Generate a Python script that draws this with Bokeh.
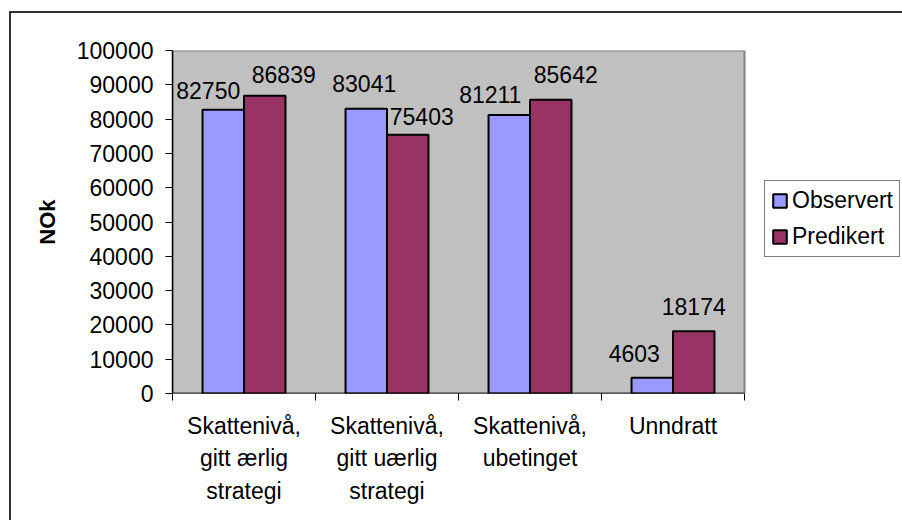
from bokeh.plotting import figure
from bokeh.models import (Range1d, FixedTicker, ColumnDataSource, Legend, LegendItem,
                          NumeralTickFormatter)
from bokeh.core.properties import value
from bokeh.embed import file_html
from bokeh.resources import INLINE

# ---- data ----
categories = ["Skattenivå,\ngitt ærlig\nstrategi",
              "Skattenivå,\ngitt uærlig\nstrategi",
              "Skattenivå,\nubetinget",
              "Unndratt"]
observert = [82750, 83041, 81211, 4603]
predikert = [86839, 75403, 85642, 18174]
series_names = ["Observert", "Predikert"]
y_ticks = [0, 10000, 20000, 30000, 40000, 50000, 60000, 70000, 80000, 90000, 100000]
y_label = "NOk"

# data-label pixel nudges (as placed in the original chart)
obs_label_dx = [-15, -2, -19, -18]
obs_label_dy = [19, 25, 20, 24]
pred_label_dx = [19, 14, 15, 0]
pred_label_dy = [21, 18, 25, 25]

FONT = "Liberation Sans"
BLUE = "#9999FF"
RED = "#993366"
BAR_W = 0.29

n = len(categories)
centers = [i + 0.5 for i in range(n)]

# layout (pixels): plot area 172..744 wide; the frame extends to the right edge
W, H = 902, 520
PLOT_L, PLOT_R, PLOT_T, PLOT_B = 172, 744, 50, 393
x_end = n * (W - PLOT_L) / (PLOT_R - PLOT_L)

p = figure(width=W, height=H, output_backend="svg", toolbar_location=None,
           x_range=Range1d(0, x_end), y_range=Range1d(y_ticks[0], y_ticks[-1]),
           min_border_left=PLOT_L, min_border_right=0, min_border_top=PLOT_T,
           min_border_bottom=H - PLOT_B)
p.background_fill_alpha = 0
p.border_fill_alpha = 0
p.outline_line_color = None
p.grid.visible = False
# outer chart-area frame (cropped at right/bottom), drawn behind the canvas
p.styles = {
    "background": ("linear-gradient(#333333, #333333) 9px 11px / 2px 100% no-repeat, "
                   "linear-gradient(#333333, #333333) 9px 11px / 100% 2px no-repeat, "
                   "white"),
}

# grey plot area
p.quad(left=0, right=n, bottom=y_ticks[0], top=y_ticks[-1],
       fill_color="#C0C0C0", line_color="#808080", line_width=2)

src_o = ColumnDataSource(dict(x=[c - BAR_W / 2 for c in centers], top=observert,
                              t=[str(v) for v in observert], dx=obs_label_dx,
                              dy=[-d for d in obs_label_dy]))
src_p = ColumnDataSource(dict(x=[c + BAR_W / 2 for c in centers], top=predikert,
                              t=[str(v) for v in predikert], dx=pred_label_dx,
                              dy=[-d for d in pred_label_dy]))

r_o = p.vbar(x="x", top="top", bottom=0, width=BAR_W, source=src_o,
             fill_color=BLUE, line_color="black", line_width=2)
r_p = p.vbar(x="x", top="top", bottom=0, width=BAR_W, source=src_p,
             fill_color=RED, line_color="black", line_width=2)

# category axis line (only under the plot area)
p.segment(x0=0, y0=y_ticks[0], x1=n, y1=y_ticks[0], line_color="black", line_width=1.5)

for src in (src_o, src_p):
    p.text(x="x", y="top", text="t", x_offset="dx", y_offset="dy", source=src,
           text_font=value(FONT), text_font_size="23px", text_color="black",
           text_align="center", text_baseline="middle")

# y axis
p.yaxis.ticker = FixedTicker(ticks=y_ticks)
p.yaxis.formatter = NumeralTickFormatter(format="0")
p.yaxis.major_label_text_font = FONT
p.yaxis.major_label_text_font_size = "23px"
p.yaxis.major_label_text_color = "black"
p.yaxis.major_tick_in = 0
p.yaxis.major_tick_out = 7
p.yaxis.minor_tick_line_color = None
p.yaxis.major_label_standoff = 12
p.yaxis.axis_line_color = "black"
p.yaxis.axis_line_width = 1.5
p.yaxis.major_tick_line_color = "black"
p.yaxis.axis_label = y_label
p.yaxis.axis_label_text_font = FONT
p.yaxis.axis_label_text_font_style = "bold"
p.yaxis.axis_label_text_font_size = "22px"
p.yaxis.axis_label_text_color = "black"
p.yaxis.axis_label_standoff = 14

# x axis: labels at centers, ticks at category boundaries
p.xaxis.ticker = FixedTicker(ticks=centers, minor_ticks=list(range(n + 1)))
p.xaxis.major_label_overrides = {c: lab for c, lab in zip(centers, categories)}
p.xaxis.major_tick_line_color = None
p.xaxis.major_tick_in = 0
p.xaxis.major_tick_out = 7
p.xaxis.minor_tick_in = 0
p.xaxis.minor_tick_out = 7
p.xaxis.minor_tick_line_color = "black"
p.xaxis.axis_line_color = None
p.xaxis.major_label_text_font = FONT
p.xaxis.major_label_text_font_size = "23px"
p.xaxis.major_label_text_color = "black"
p.xaxis.major_label_text_line_height = 1.25
p.xaxis.major_label_standoff = 12

legend = Legend(items=[LegendItem(label=series_names[0], renderers=[r_o]),
                       LegendItem(label=series_names[1], renderers=[r_p])],
                location=(592, 136), orientation="vertical",
                label_text_font=FONT, label_text_font_size="23px",
                label_text_color="black", glyph_width=17, glyph_height=17,
                label_height=25, label_standoff=4, spacing=9, padding=6, margin=0,
                border_line_color="black", border_line_width=1,
                background_fill_color="white", background_fill_alpha=1)
p.add_layout(legend, "center")

open("out.html", "w").write(file_html(p, INLINE))
